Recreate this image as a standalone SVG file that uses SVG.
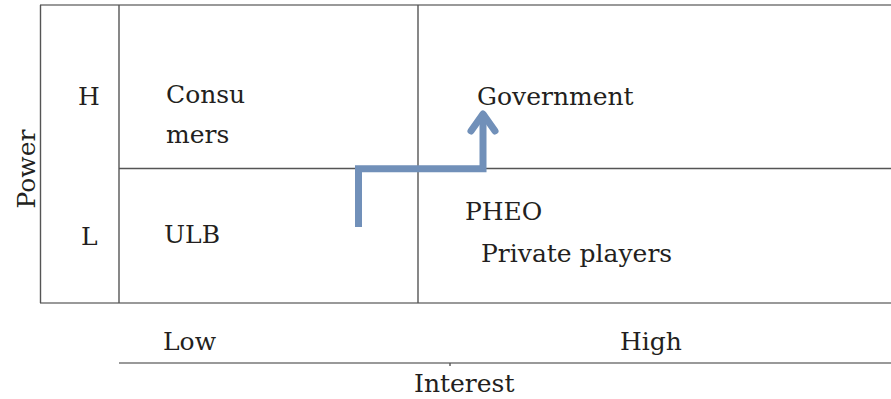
<svg xmlns="http://www.w3.org/2000/svg" width="891" height="399" viewBox="0 0 891 399">
<style>
.t{font-family:"DejaVu Serif","Liberation Serif",serif;font-size:25px;fill:#231f20}
.g{stroke:#555;stroke-width:1.4;fill:none}
.b{stroke:#777;stroke-width:1.4;fill:none}
.arr{stroke:#7190b9;stroke-width:7;fill:none}
</style>
<rect width="891" height="399" fill="#fff"/>
<g id="grid">
<line class="b" x1="40" y1="5" x2="891" y2="5"/>
<line class="b" x1="40" y1="303" x2="891" y2="303"/>
<line class="g" x1="40.5" y1="5" x2="40.5" y2="303"/>
<line class="g" x1="119" y1="5" x2="119" y2="303"/>
<line class="g" x1="418" y1="5" x2="418" y2="303"/>
<line class="g" x1="119" y1="168.5" x2="891" y2="168.5"/>
<line class="b" x1="119" y1="363" x2="891" y2="363"/>
<line class="g" x1="450" y1="363" x2="450" y2="366"/>
</g>
<g id="axis-power"><text class="t" transform="translate(35,169) rotate(-90)" text-anchor="middle" font-size="24">Power</text></g>
<g id="level-h"><text class="t" x="78" y="105">H</text></g>
<g id="level-l"><text class="t" x="81" y="245">L</text></g>
<g id="consumers"><text class="t" x="166" y="103">Consu</text><text class="t" x="166" y="143">mers</text></g>
<g id="ulb"><text class="t" x="164" y="243">ULB</text></g>
<g id="government"><text class="t" x="477" y="105">Government</text></g>
<g id="pheo"><text class="t" x="465" y="220">PHEO</text></g>
<g id="private-players"><text class="t" x="481" y="262">Private players</text></g>
<g id="interest-low"><text class="t" x="163" y="350">Low</text></g>
<g id="interest-high"><text class="t" x="620" y="350">High</text></g>
<g id="axis-interest"><text class="t" x="414" y="392">Interest</text></g>
<g id="connectors">
<path class="arr" d="M358.5 227 V168.7 H483 V114"/>
<path class="arr" d="M471 131 L483 114 L495 131" stroke-linecap="round" stroke-linejoin="round"/>
</g>
</svg>
